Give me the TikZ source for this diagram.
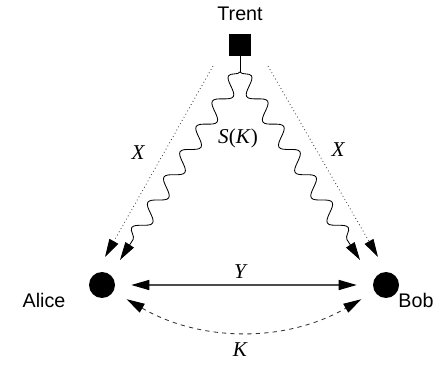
\documentclass[tikz,border=0pt]{standalone}
\usepackage{fontspec}
\setmainfont{Liberation Serif}
\setsansfont{Liberation Sans}
\usetikzlibrary{arrows.meta,decorations.pathmorphing}

\begin{document}
\begin{tikzpicture}[
      every node/.style={font=\fontsize{13}{15}\selectfont},
      party/.style={circle, fill=black, inner sep=0pt, minimum size=0.65cm},
      server/.style={rectangle, fill=black, inner sep=0pt, minimum size=0.55cm},
      who/.style={font=\fontsize{14}{16}\selectfont\sffamily},
      msg/.style={font=\fontsize{15}{17}\selectfont\itshape},
      tip/.style={-{Triangle[length=0.45cm,width=0.25cm,color=black]}},
      tips/.style={{Triangle[length=0.45cm,width=0.25cm,color=black]}-{Triangle[length=0.45cm,width=0.25cm,color=black]}},
      wavy/.style={decorate, decoration={snake, amplitude=0.19cm, segment length=0.75cm, post length=0.6cm}}
    ]
    \useasboundingbox (0,0) rectangle (10.95,9.1);

    % parties
    \node[server] (trent) at (6.0,7.975) {};
    \node[party] (alice) at (2.55,1.975) {};
    \node[party] (bob) at (9.65,1.975) {};
    \node[who] (trentlbl) at (6.0,8.75) {Trent};
    \node[who] (alicelbl) at (1.1,1.6) {Alice};
    \node[who] (boblbl) at (10.4,1.6) {Bob};

    % free ends
    \coordinate (fork) at (6.0,7.3);
    \coordinate (sa) at (3.0,2.6);
    \coordinate (sb) at (9.0,2.6);
    \coordinate (xa0) at (5.325,7.45);
    \coordinate (xa) at (2.625,2.675);
    \coordinate (xb0) at (6.7,7.45);
    \coordinate (xb) at (9.45,2.675);

    \draw[line width=0.6pt] (trent) -- (fork);
    \draw[wavy, decoration={mirror}, tip, line width=0.6pt] (fork) -- (sa);
    \draw[wavy, tip, line width=0.6pt] (fork) -- (sb);
    \draw[dotted, tip, draw=black!75, line width=0.6pt] (xa0) -- (xa);
    \draw[dotted, tip, draw=black!75, line width=0.6pt] (xb0) -- (xb);

    \draw[tips, draw=black!70, line width=1pt, shorten <=0.4cm, shorten >=0.4cm] (alice) -- (bob);
    \draw[tips, dashed, draw=black!80, line width=0.6pt, shorten <=0.38cm, shorten >=0.38cm] (alice) to[out=-30, in=-150] (bob);

    % labels
    \node[msg] (x1) at (3.45,5.275) {X};
    \node[msg] (x2) at (8.45,5.35) {X};
    \node[msg] (sk) at (5.95,5.65) {S\textup{(}K\textup{)}};
    \node[msg] (y) at (6.0,2.3) {Y};
    \node[msg] (k) at (6.0,0.35) {K};

  \end{tikzpicture}
\end{document}
